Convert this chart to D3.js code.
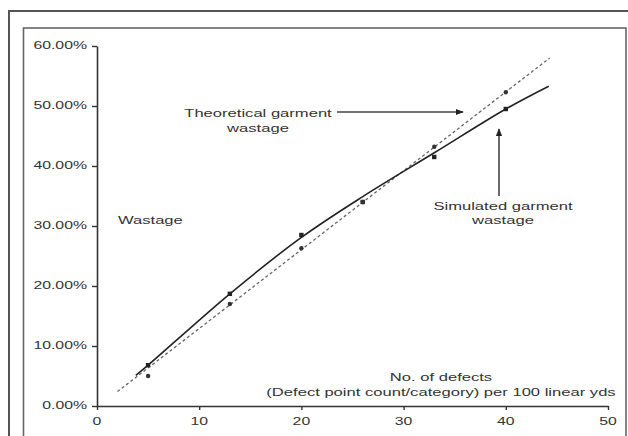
<!DOCTYPE html>
<html><head><meta charset="utf-8">
<script src="https://cdn.jsdelivr.net/npm/d3@7/dist/d3.min.js"></script>
<style>body{margin:0;background:#fff}svg{display:block}text{font-family:"Liberation Sans",Arial,sans-serif;fill:#333}</style>
</head><body><svg id="c" width="628" height="436"></svg>
<script>
// ---- data ----
const xTicks = [0, 10, 20, 30, 40, 50];
const yTicks = [0, 0.1, 0.2, 0.3, 0.4, 0.5, 0.6];
const defects = [5, 13, 20, 26, 33, 40];
const simulated = [6.8, 18.7, 28.5, 34.0, 41.5, 49.5];      // % wastage, markers
const theoretical = [5.0, 17.0, 26.3, 34.0, 43.2, 52.3];    // % wastage, markers
const simCurveX = [3.8, 5, 13, 20, 26, 33, 40, 44.2];       // solid trend line
const simCurveY = [5.1, 6.8, 18.7, 28.1, 34.9, 42.2, 49.5, 53.3];
const theoLineX = [2.0, 44.3];                              // dashed trend line
const theoLineY = [2.4, 58.0];

const svg = d3.select("#c");
const SX = 1.58; // horizontal stretch of the text in the reference

// frames
svg.append("rect").attr("x", 9).attr("y", 11).attr("width", 640).attr("height", 440)
  .attr("fill", "none").attr("stroke", "#555").attr("stroke-width", 2);
svg.append("rect").attr("x", 23.5).attr("y", 28).attr("width", 602.5).attr("height", 440)
  .attr("fill", "none").attr("stroke", "#666").attr("stroke-width", 1.6);

const x = d3.scaleLinear().domain([0, 50]).range([97, 608]);
const y = d3.scaleLinear().domain([0, 0.6]).range([406, 46]);

function stext(t, px, py, anchor, size) {
  const g = svg.append("g").attr("transform", `translate(${px},${py}) scale(${SX},1)`);
  g.append("text").attr("text-anchor", anchor || "start").attr("dominant-baseline", "central")
    .attr("font-size", size || 10.5).text(t);
}

// axes
const yAxis = svg.append("g").attr("transform", "translate(97,0)")
  .call(d3.axisLeft(y).tickValues(yTicks).tickFormat(d3.format(".2%")).tickSize(5).tickSizeOuter(0));
const xAxis = svg.append("g").attr("transform", "translate(0,406)")
  .call(d3.axisBottom(x).tickValues(xTicks).tickSize(4).tickSizeOuter(0));
[yAxis, xAxis].forEach(a => {
  a.select(".domain").attr("stroke", "#333").attr("stroke-width", 1.6);
  a.selectAll(".tick line").attr("stroke", "#333").attr("stroke-width", 1.4);
  a.selectAll(".tick text").remove();
});
yTicks.forEach(v => stext(d3.format(".2%")(v), 87, y(v), "end", 10));
xTicks.forEach(v => stext(String(v), x(v), 422, "middle", 10));

// lines
const line = d3.line().x(d => x(d[0])).y(d => y(d[1] / 100));
svg.append("path").datum(theoLineX.map((v, i) => [v, theoLineY[i]]))
  .attr("d", line).attr("fill", "none").attr("stroke", "#666").attr("stroke-width", 1.3)
  .attr("stroke-dasharray", "3,2.5");
svg.append("path").datum(simCurveX.map((v, i) => [v, simCurveY[i]]))
  .attr("d", line.curve(d3.curveCatmullRom.alpha(0.5))).attr("fill", "none").attr("stroke", "#222").attr("stroke-width", 1.6);

// markers
svg.append("g").selectAll("rect").data(defects.map((d, i) => [d, simulated[i]])).join("rect")
  .attr("x", d => x(d[0]) - 2.2).attr("y", d => y(d[1] / 100) - 2.2).attr("width", 4.4).attr("height", 4.4)
  .attr("fill", "#222");
svg.append("g").selectAll("circle").data(defects.map((d, i) => [d, theoretical[i]])).join("circle")
  .attr("cx", d => x(d[0])).attr("cy", d => y(d[1] / 100)).attr("r", 2.2).attr("fill", "#333");

// annotations
stext("Theoretical garment", 258, 113, "middle", 10.5);
stext("wastage", 258, 128, "middle", 10.5);
stext("Simulated garment", 503, 206, "middle", 10.5);
stext("wastage", 503, 220, "middle", 10.5);
stext("Wastage", 118, 220, "start", 10.5);
stext("No. of defects", 441, 377, "middle", 10.5);
stext("(Defect point count/category) per 100 linear yds", 441, 392, "middle", 10.5);

svg.append("defs").append("marker").attr("id", "ah").attr("viewBox", "0 0 10 10")
  .attr("refX", 9).attr("refY", 5).attr("markerWidth", 5).attr("markerHeight", 5)
  .attr("orient", "auto").append("path").attr("d", "M0,1L10,5L0,9Z").attr("fill", "#222");
svg.append("line").attr("x1", 337).attr("y1", 112).attr("x2", 463).attr("y2", 112)
  .attr("stroke", "#444").attr("stroke-width", 1.6).attr("marker-end", "url(#ah)");
svg.append("line").attr("x1", 499).attr("y1", 196).attr("x2", 499).attr("y2", 129)
  .attr("stroke", "#444").attr("stroke-width", 1.6).attr("marker-end", "url(#ah)");
</script></body></html>
